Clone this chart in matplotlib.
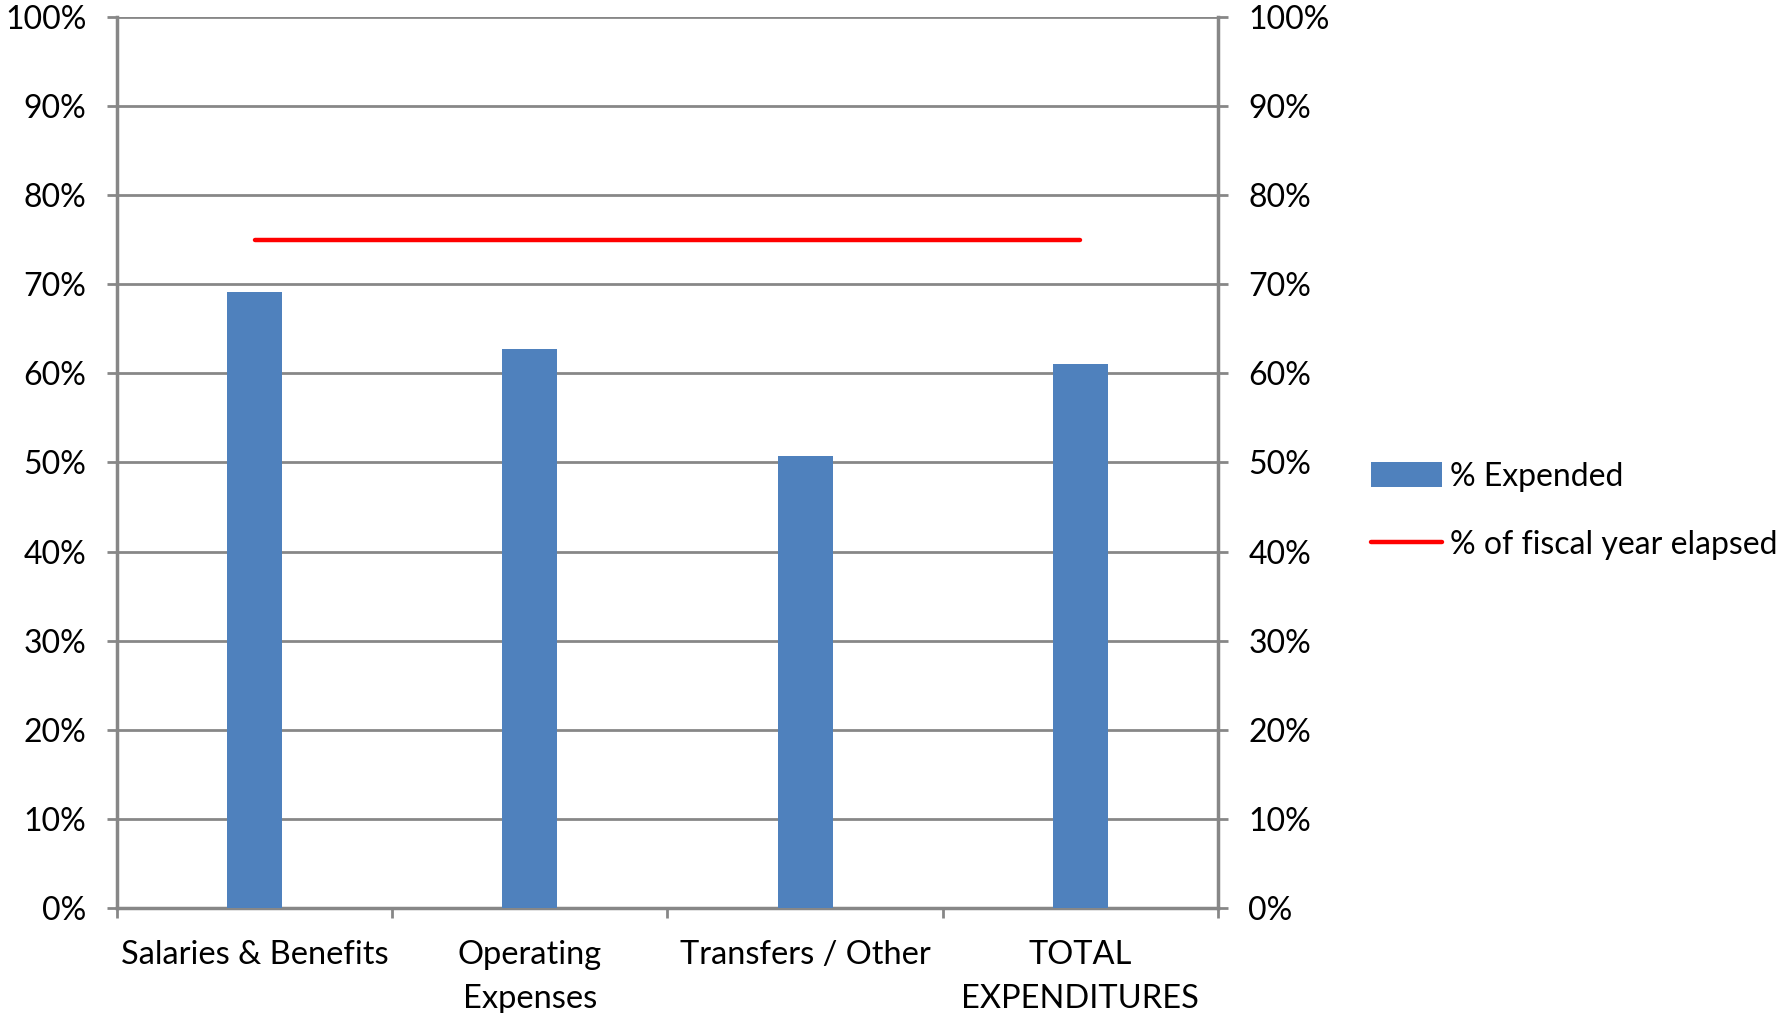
import numpy as np
import matplotlib.pyplot as plt
from matplotlib.ticker import PercentFormatter, FixedLocator

categories = ["Salaries & Benefits", "Operating\nExpenses", "Transfers / Other", "TOTAL\nEXPENDITURES"]
pct_expended = [0.691, 0.627, 0.507, 0.610]
pct_year_elapsed = [0.75, 0.75, 0.75, 0.75]

plt.rcParams['font.family'] = ['Lato', 'DejaVu Sans']
grey = '#878787'

fig = plt.figure(figsize=(17.84, 10.13), dpi=100)
ax = fig.add_axes([0.0656, 0.1037, 0.6171, 0.8795])

x = np.arange(len(categories))
bars = ax.bar(x, pct_expended, width=0.2, color='#4F81BD', label='% Expended', zorder=3)
line, = ax.plot(x, pct_year_elapsed, color='#FF0000', lw=3.2, solid_capstyle='round',
                label='% of fiscal year elapsed', zorder=4)

ax.set_xlim(-0.5, len(categories) - 0.5)
ax.set_ylim(0, 1)
ax.yaxis.set_major_locator(FixedLocator(np.arange(0, 1.01, 0.1)))
ax.yaxis.set_major_formatter(PercentFormatter(1.0, decimals=0))
ax.grid(axis='y', color=grey, lw=2, zorder=0)
ax.set_axisbelow(True)

# category labels centred, boundary ticks underneath
ax.set_xticks(x)
ax.set_xticklabels(categories, fontsize=23.5, linespacing=1.6, va='top')
ax.set_xticks(np.arange(-0.5, len(categories)), minor=True)
ax.tick_params(axis='x', which='major', length=0, pad=23)
ax.tick_params(axis='x', which='minor', length=7, width=2, color=grey, direction='out')
ax.tick_params(axis='y', length=7, width=2, color=grey, labelsize=23, pad=15,
               right=True, labelright=True)

for side in ['left', 'right', 'bottom']:
    ax.spines[side].set_color(grey)
    ax.spines[side].set_linewidth(2.5)
ax.spines['top'].set_visible(False)

fig.legend([bars, line], ['% Expended', '% of fiscal year elapsed'],
           loc='upper left', bbox_to_anchor=(0.7615, 0.557), frameon=False,
           fontsize=23, handlelength=2.2, handleheight=0.8, handletextpad=0.25,
           labelspacing=1.2, borderaxespad=0)

fig.savefig('out.png', dpi=100, facecolor='white')
